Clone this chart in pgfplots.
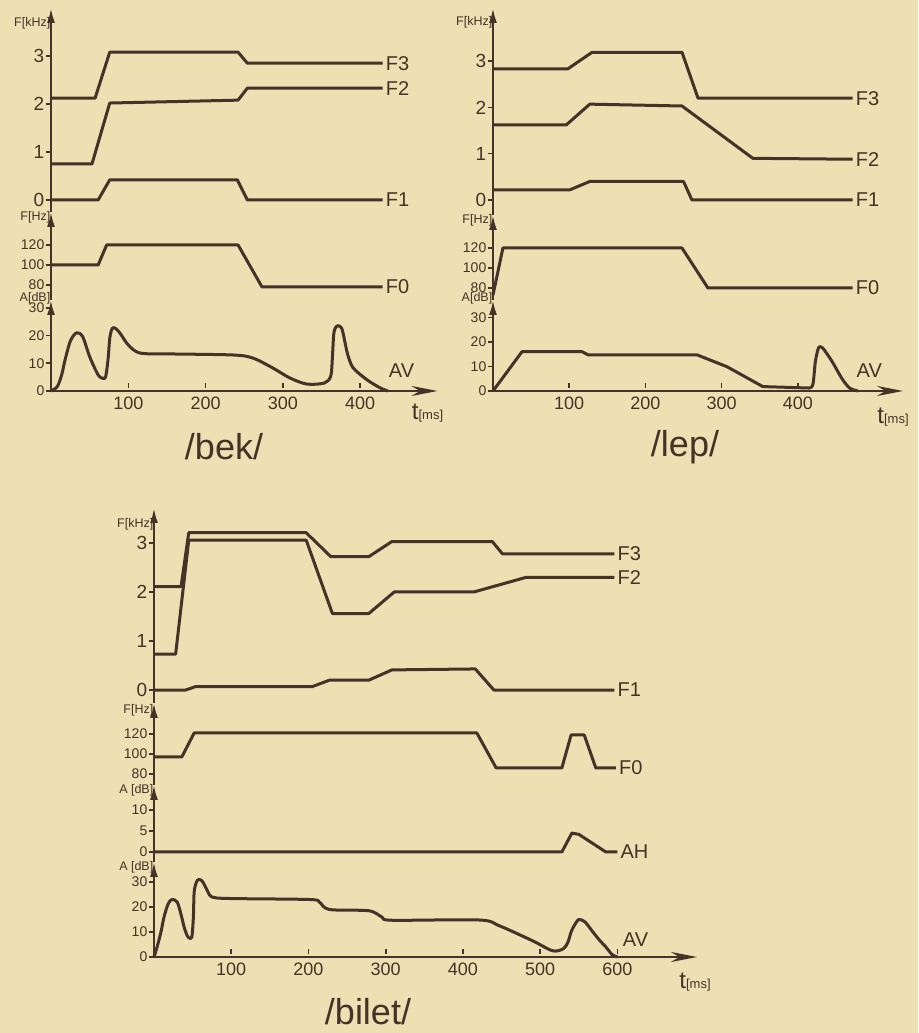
\documentclass[border=0pt]{standalone}
\usepackage{fontspec}
\setmainfont{Liberation Sans}
\usepackage{pgfplots}
\pgfplotsset{compat=1.18}
\usetikzlibrary{arrows.meta}
\definecolor{paper}{RGB}{237,224,178}
\definecolor{ink}{RGB}{70,50,40}
\newcommand\fsk{\fontsize{19}{19}\selectfont}
\newcommand\fss{\fontsize{14}{14}\selectfont}
\newcommand\fsx{\fontsize{18}{18}\selectfont}
\newcommand\fsl{\fontsize{20}{20}\selectfont}
\newcommand\fsa{\fontsize{12.5}{12.5}\selectfont}
\newcommand\fst{\fontsize{36}{36}\selectfont}
\newcommand\tms{{\fontsize{24}{24}\selectfont t}{\fontsize{13}{13}\selectfont[ms]}}
\tikzset{lab/.style={anchor=west, font=\fsl, text=ink, inner sep=3pt}}
\pgfplotsset{
 base/.style={scale only axis, clip=false, enlargelimits=false, anchor=south west,
   axis y line=left,
   axis line style={line width=2.3pt, ink},
   y axis line style={-{Latex[length=15pt,width=8pt]}},
   tick align=outside, major tick length=5pt,
   tick style={line width=1.6pt, ink},
   /pgf/number format/assume math mode=true,
   ticklabel style={text=ink},
   yticklabel style={font=\fss, inner sep=1.5pt},
   xticklabel style={font=\fsx},
   no markers,
   every axis plot post/.append style={ink, line width=3pt, line join=round},
   every axis y label/.style={at={(rel axis cs:0,1)}, anchor=east, font=\fsa, text=ink, inner sep=0.5pt},
   every axis x label/.style={at={(rel axis cs:1,0)}, anchor=center, text=ink},
 },
 upper/.style={base, axis x line=none, xtick=\empty},
 lower/.style={base, axis x line=bottom, x axis line style={-{Stealth[length=26pt,width=10pt]}}, x tick style={yshift=5pt}},
}
\begin{document}
\begin{tikzpicture}
\fill[paper] (0,0) rectangle (918pt,1033pt);
\useasboundingbox (0,0) rectangle (918pt,1033pt);

% ================= /bek/ =================
\begin{axis}[upper, at={(51pt,821pt)}, width=386.5pt, height=204pt,
  xmin=0, xmax=500, ymin=-0.25, ymax=4, ytick={0,1,2,3}, yticklabel style={font=\fsk},
  ylabel={F[kHz]}, ylabel style={yshift=-15pt}]
\addplot coordinates {(0,2.12)(57,2.12)(76,3.08)(242,3.08)(254,2.85)(429,2.85)};
\addplot coordinates {(0,0.75)(53,0.75)(76,2.02)(242,2.08)(254,2.33)(429,2.33)};
\addplot coordinates {(0,0)(61,0)(76,0.42)(241,0.42)(254,0)(429,0)};
\node[lab] at (axis cs:429,2.85) {F3};
\node[lab] at (axis cs:429,2.33) {F2};
\node[lab] at (axis cs:429,0) {F1};
\end{axis}
\begin{axis}[upper, at={(51pt,733pt)}, width=386.5pt, height=88pt,
  xmin=0, xmax=500, ymin=65, ymax=153, ytick={80,100,120},
  ylabel={F[Hz]}, ylabel style={yshift=-5pt}]
\addplot coordinates {(0,100)(61,100)(72,120)(242,120)(273,78)(429,78)};
\node[lab] at (axis cs:429,78) {F0};
\end{axis}
\begin{axis}[lower, at={(51pt,642pt)}, width=386.5pt, height=91pt,
  xmin=0, xmax=500, ymin=0, ymax=32.85, ytick={0,10,20,30}, xtick={100,200,300,400},
  ylabel={A[dB]}, ylabel style={yshift=2pt},
  xlabel={\tms}, xlabel style={xshift=-10pt, yshift=-22pt}]
\addplot[smooth, tension=0.5] coordinates {(0,0)(5,0.8)(9,2)(14,6)(18,11)(25,18)(33,21)(41,19.6)(50,12.4)(61,5.8)(68,4.5)(71,5.5)(74,12)(76,19)(79,22.5)(83,22.7)(89,21)(100,16.6)(115,13.7)(150,13.4)(235,13)(261,11.9)(287,8.3)(309,4.7)(331,2.5)(354,2.9)(362,5.5)(364,12)(366,21)(370,23.5)(376,22.7)(380,18)(384,13)(391,8.3)(409,4)(426,1.1)(436,0)};
\node[lab] at (axis cs:433,7.2) {AV};
\end{axis}
\node[anchor=base, font=\fst, text=ink] at (224pt,573pt) {/bek/};

% ================= /lep/ =================
\begin{axis}[upper, at={(493pt,818pt)}, width=410pt, height=207pt,
  xmin=0, xmax=538, ymin=-0.324, ymax=4.147, ytick={0,1,2,3}, yticklabel style={font=\fsk},
  ylabel={F[kHz]}, ylabel style={yshift=-14pt}]
\addplot coordinates {(0,2.83)(98,2.83)(130,3.19)(248,3.19)(269,2.2)(472,2.2)};
\addplot coordinates {(0,1.62)(96,1.62)(127,2.07)(248,2.03)(341,0.9)(472,0.88)};
\addplot coordinates {(0,0.22)(101,0.22)(127,0.4)(250,0.4)(261,0)(472,0)};
\node[lab] at (axis cs:472,2.2) {F3};
\node[lab] at (axis cs:472,0.88) {F2};
\node[lab] at (axis cs:472,0) {F1};
\end{axis}
\begin{axis}[upper, at={(493pt,733pt)}, width=410pt, height=85pt,
  xmin=0, xmax=538, ymin=68, ymax=153, ytick={80,100,120},
  ylabel={F[Hz]}, ylabel style={yshift=-5pt}]
\addplot coordinates {(0,73)(13,120)(248,120)(282,80)(472,80)};
\node[lab] at (axis cs:472,80) {F0};
\end{axis}
\begin{axis}[lower, at={(493pt,642pt)}, width=410pt, height=91pt,
  xmin=0, xmax=538, ymin=0, ymax=37.1, ytick={0,10,20,30}, xtick={100,200,300,400},
  ylabel={A[dB]}, ylabel style={yshift=2pt},
  xlabel={\tms}, xlabel style={xshift=-10pt, yshift=-26pt}]
\addplot coordinates {(0,0)(38,16)(117,16)(125,14.7)(268,14.7)(307,9.9)(354,1.8)(416,1.2)};
\addplot[smooth, tension=0.5] coordinates {(416,1.2)(420,3)(423,12)(427,17.5)(430,18)(434,17)(445,12)(458,5)(468,1.2)(479,0)};
\node[lab] at (axis cs:473,8.2) {AV};
\end{axis}
\node[anchor=base, font=\fst, text=ink] at (685pt,576pt) {/lep/};

% ================= /bilet/ =================
\begin{axis}[upper, at={(154pt,330pt)}, width=543pt, height=195pt,
  xmin=0, xmax=703, ymin=-0.265, ymax=3.714, ytick={0,1,2,3}, yticklabel style={font=\fsk},
  ylabel={F[kHz]}, ylabel style={yshift=-16pt}]
\addplot coordinates {(0,2.11)(35,2.11)(45,3.21)(197,3.21)(229,2.72)(278,2.72)(308,3.03)(438,3.03)(451,2.78)(596,2.78)};
\addplot coordinates {(0,0.73)(28,0.73)(45,3.06)(197,3.06)(231,1.56)(278,1.56)(311,2.0)(414,2.0)(482,2.3)(596,2.3)};
\addplot coordinates {(0,0)(41,0)(54,0.07)(205,0.07)(227,0.2)(278,0.2)(308,0.41)(416,0.43)(440,0)(596,0)};
\node[lab] at (axis cs:596,2.78) {F3};
\node[lab] at (axis cs:596,2.3) {F2};
\node[lab] at (axis cs:596,0) {F1};
\end{axis}
\begin{axis}[upper, at={(154pt,248pt)}, width=543pt, height=82pt,
  xmin=0, xmax=703, ymin=69, ymax=151, ytick={80,100,120},
  ylabel={F[Hz]}, ylabel style={yshift=-7pt}]
\addplot coordinates {(0,97)(36,97)(52,121)(418,121)(443,86)(528,86)(540,119)(557,119)(572,86)(598,86)};
\node[lab] at (axis cs:598,86) {F0};
\end{axis}
\begin{axis}[upper, at={(154pt,171pt)}, width=543pt, height=77pt,
  xmin=0, xmax=703, ymin=-2.38, ymax=15.95, ytick={0,5,10},
  ylabel={A [dB]}, ylabel style={yshift=-5pt}]
\addplot coordinates {(0,0)(528,0)(541,4.5)(550,4.2)(585,0)(600,0)};
\node[lab] at (axis cs:600,0) {AH};
\end{axis}
\begin{axis}[lower, at={(154pt,76pt)}, width=543pt, height=95pt,
  xmin=0, xmax=703, ymin=0, ymax=38, ytick={0,10,20,30}, xtick={100,200,300,400,500,600},
  ylabel={A [dB]}, ylabel style={yshift=-5pt},
  xlabel={\tms}, xlabel style={xshift=-2pt, yshift=-25pt}]
\addplot[smooth, tension=0.5] coordinates {(0,0)(4,4)(9,10)(13,16)(18,21)(23,23)(30,22)(35,17)(39,12)(43,8.5)(46,7.6)(49,8)(51,16)(52,26)(55,30)(58,31)(62,30.5)(65,29)(70,26)(75,24)(97,23.4)(201,23)(214,22)(227,19)(278,18.5)(295,16)(308,14.7)(421,14.8)(447,12.5)(490,6.5)(516,2.5)(530,3.3)(536,6)(540,10)(544,12.5)(550,15)(558,14)(567,10.5)(576,7)(585,4)(593,1)(600,0)};
\node[lab] at (axis cs:603,6.8) {AV};
\end{axis}
\node[anchor=base, font=\fst, text=ink] at (368pt,9pt) {/bilet/};
\end{tikzpicture}
\end{document}
